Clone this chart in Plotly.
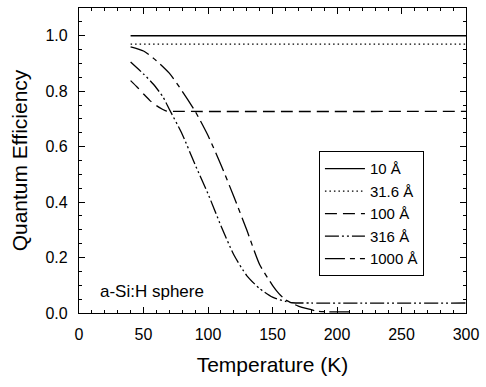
import plotly.graph_objects as go

# Data
t_10 = [40, 300]
qe_10 = [1.0, 1.0]

t_31 = [40, 300]
qe_31 = [0.97, 0.97]

t_100 = [40, 45, 50, 55, 60, 65, 68, 80, 300]
qe_100 = [0.838, 0.815, 0.79, 0.766, 0.748, 0.734, 0.728, 0.727, 0.727]

t_316 = [40, 50, 57.5, 65, 70, 80, 90, 100, 110, 120, 130, 140, 150, 160, 165, 180, 300]
qe_316 = [0.905, 0.862, 0.826, 0.78, 0.735, 0.645, 0.535, 0.43, 0.315, 0.21, 0.135, 0.088, 0.057, 0.042, 0.037, 0.036, 0.036]

t_1000 = [40, 50, 60, 70, 80, 90, 100, 110, 120, 130, 140, 150, 155, 160, 170, 180, 185, 195, 210]
qe_1000 = [0.96, 0.945, 0.91, 0.865, 0.80, 0.728, 0.64, 0.535, 0.42, 0.30, 0.175, 0.10, 0.07, 0.048, 0.025, 0.012, 0.006, 0.004, 0.004]

labels = ["10 Å", "31.6 Å", "100 Å", "316 Å", "1000 Å"]
dashes = ["solid", "1.5px,3px", "12px,6px", "14px,3px,2px,3px,2px,3px", "20px,5px,5px,5px"]

FONT = "Liberation Sans, Arial, Helvetica"

fig = go.Figure()
series = [(t_10, qe_10), (t_31, qe_31), (t_100, qe_100), (t_316, qe_316), (t_1000, qe_1000)]
for (x, y), name, d in zip(series, labels, dashes):
    fig.add_trace(go.Scatter(x=x, y=y, mode="lines", name=name,
                             line=dict(color="black", width=1.3, dash=d, shape="spline", smoothing=0.6)))

fig.add_annotation(x=14.5, y=0.079, xref="x", yref="y", text="a-Si:H sphere",
                   showarrow=False, xanchor="left", yanchor="middle",
                   font=dict(family=FONT, size=17, color="black"))

axis_common = dict(showline=True, linecolor="black", linewidth=1.3, mirror="ticks",
                   ticks="inside", ticklen=6, tickwidth=1.2, tickcolor="black",
                   showgrid=False, zeroline=False, ticklabelstandoff=7,
                   tickfont=dict(family=FONT, size=16, color="black"))

fig.update_xaxes(range=[0, 300], dtick=50, tick0=0,
                 title=dict(text="Temperature (K)", font=dict(family=FONT, size=21, color="black"), standoff=14),
                 minor=dict(dtick=10, ticks="inside", ticklen=3, tickcolor="black", tickwidth=1),
                 **axis_common)
fig.update_yaxes(range=[0, 1.1], dtick=0.2, tick0=0, tickformat=".1f",
                 title=dict(text="Quantum Efficiency", font=dict(family=FONT, size=21, color="black"), standoff=12),
                 minor=dict(dtick=0.05, ticks="inside", ticklen=3, tickcolor="black", tickwidth=1),
                 **axis_common)

fig.update_layout(
    width=486, height=387,
    margin=dict(l=79, r=17, t=7, b=74),
    plot_bgcolor="white", paper_bgcolor="white",
    showlegend=True,
    legend=dict(x=0.62, y=0.53, xanchor="left", yanchor="top",
                bordercolor="black", borderwidth=1, bgcolor="white",
                font=dict(family=FONT, size=15, color="black"),
                tracegroupgap=0, itemwidth=40),
)

fig.write_html("out.html")
